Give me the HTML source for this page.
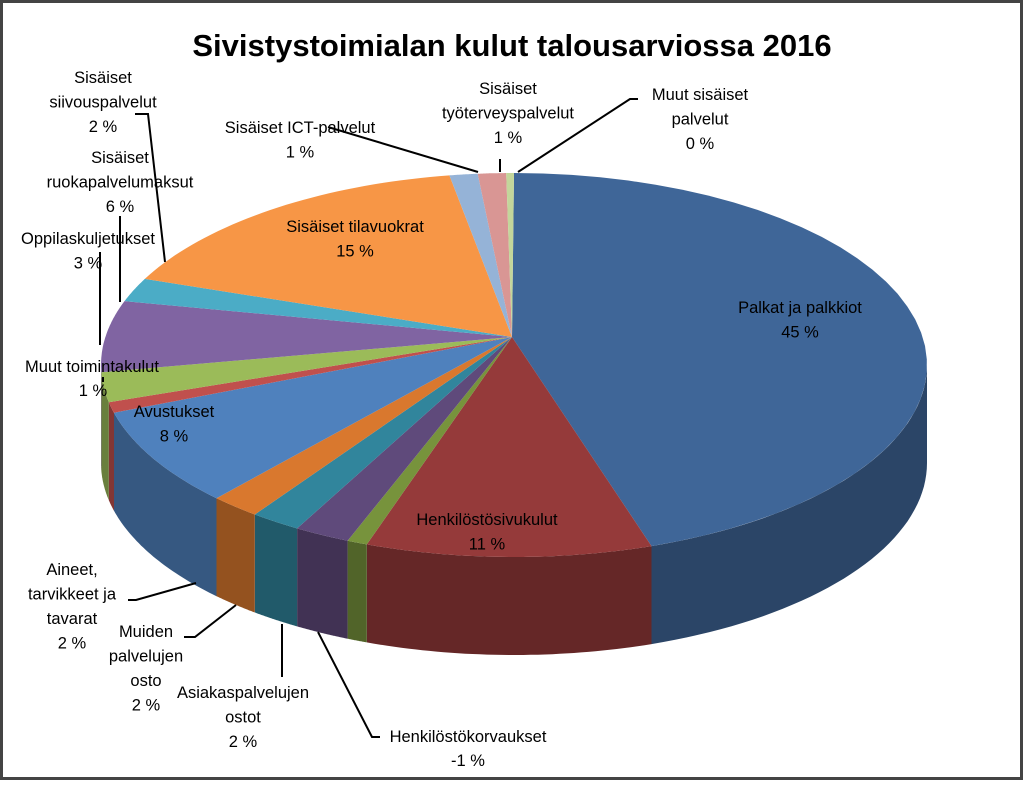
<!DOCTYPE html>
<html><head><meta charset="utf-8"><style>
body{margin:0;background:#fff}
svg text{font-family:"Liberation Sans",sans-serif;font-size:16.5px;fill:#000}
</style></head><body>
<svg id="c" width="1024" height="781" viewBox="0 0 1024 781">
<rect x="1.5" y="1.5" width="1020" height="777" fill="#fff" stroke="#444" stroke-width="3"/>
<text x="512" y="56" text-anchor="middle" style="font-size:31px;font-weight:bold">Sivistystoimialan kulut talousarviossa 2016</text>
<g id="sides"></g><g id="tops"></g><g id="labels"></g>
</svg>
<script>
const categories=["Palkat ja palkkiot","Henkilöstösivukulut","Henkilöstökorvaukset","Asiakaspalvelujen ostot","Muiden palvelujen osto","Aineet, tarvikkeet ja tavarat","Avustukset","Muut toimintakulut","Oppilaskuljetukset","Sisäiset ruokapalvelumaksut","Sisäiset siivouspalvelut","Sisäiset tilavuokrat","Sisäiset ICT-palvelut","Sisäiset työterveyspalvelut","Muut sisäiset palvelut"];
const values=[44.6,11.2,0.8,2.2,2.0,2.0,8.2,0.9,2.5,6.0,2.0,15.1,1.1,1.1,0.3];
const printed=["45 %","11 %","-1 %","2 %","2 %","2 %","8 %","1 %","3 %","6 %","2 %","15 %","1 %","1 %","0 %"];
const colors=["#3F6698","#953A3A","#77933C","#5F4A7B","#31859C","#D9782E","#4F81BD","#C0504D","#9BBB59","#8064A2","#4BACC6","#F79646","#95B3D7","#D99694","#C3D69B"];
const NS="http://www.w3.org/2000/svg";
const cx=514,cy=365,rx=413,ry=192,ax=512,ay=337,depth=98;
function pt(a,dy){return [cx+rx*Math.sin(a),cy-ry*Math.cos(a)+(dy||0)];}
function dark(h,f){const n=parseInt(h.slice(1),16);return `rgb(${Math.round((n>>16)*f)},${Math.round(((n>>8)&255)*f)},${Math.round((n&255)*f)})`;}
function mk(p,tag,at){const e=document.createElementNS(NS,tag);for(const k in at)e.setAttribute(k,at[k]);p.appendChild(e);return e;}
function arc(a1,a2,dy,rev){let s="";const n=40;for(let i=0;i<=n;i++){const t=rev?a2-(a2-a1)*i/n:a1+(a2-a1)*i/n;const p=pt(t,dy);s+=(i?"L":"")+p[0].toFixed(1)+","+p[1].toFixed(1);}return s;}
const total=values.reduce((a,b)=>a+b,0);
const sides=document.getElementById('sides'),tops=document.getElementById('tops');
let a=0;const angs=[];
values.forEach((v,i)=>{const a1=a,a2=a+v/total*2*Math.PI;angs.push([a1,a2]);a=a2;});
angs.forEach(([a1,a2],i)=>{
  const s1=Math.max(a1,Math.PI/2),s2=Math.min(a2,1.5*Math.PI);
  if(s2>s1){const d="M"+arc(s1,s2,0,false)+"L"+arc(s1,s2,depth,true)+"Z";
    const e=mk(sides,'path',{d:d,fill:dark(colors[i],0.68)});
    
    }
  const d="M"+ax+","+ay+"L"+arc(a1,a2,0,false)+"Z";
  const e=mk(tops,'path',{d:d,fill:colors[i]});
  
  
});
const L=document.getElementById('labels');
const labs=[
 [["Palkat ja palkkiot",printed[0]],800,313,null],
 [["Henkilöstösivukulut",printed[1]],487,525,null],
 [["Henkilöstökorvaukset"],468,742,"M318,632L372,737L380,737"],
 [[printed[2]],468,766,null],
 [["Asiakaspalvelujen","ostot",printed[3]],243,698,"M282,624L282,677"],
 [["Muiden","palvelujen","osto",printed[4]],146,637,"M236,605L195,637L184,637"],
 [["Aineet,","tarvikkeet ja","tavarat",printed[5]],72,575,"M196,583L136,600L128,600"],
 [["Avustukset",printed[6]],174,417,null],
 [["Muut toimintakulut"],92,372,"M103,382L103,377"],
 [[printed[7]],93,396,null],
 [["Oppilaskuljetukset",printed[8]],88,244,"M100,252L100,345"],
 [["Sisäiset","ruokapalvelumaksut",printed[9]],120,163,"M120,216L120,302"],
 [["Sisäiset","siivouspalvelut",printed[10]],103,83,"M135,114L148,114L165,262"],
 [["Sisäiset tilavuokrat",printed[11]],355,232,null],
 [["Sisäiset ICT-palvelut",printed[12]],300,133,"M328,127L478,172"],
 [["Sisäiset","työterveyspalvelut",printed[13]],508,94,"M500,159L500,172"],
 [["Muut sisäiset","palvelut",printed[14]],700,100,"M638,99L630,99L518,172"]
];
labs.forEach(([lines,x,y,path],i)=>{
  if(path){const p=mk(L,'path',{d:path,fill:'none',stroke:'#000','stroke-width':2});
    
    }
  lines.forEach((t,j)=>{const e=mk(L,'text',{x:x,y:y+j*24.5,'text-anchor':'middle'});e.textContent=t;
    
    });
});
</script>
</body></html>
